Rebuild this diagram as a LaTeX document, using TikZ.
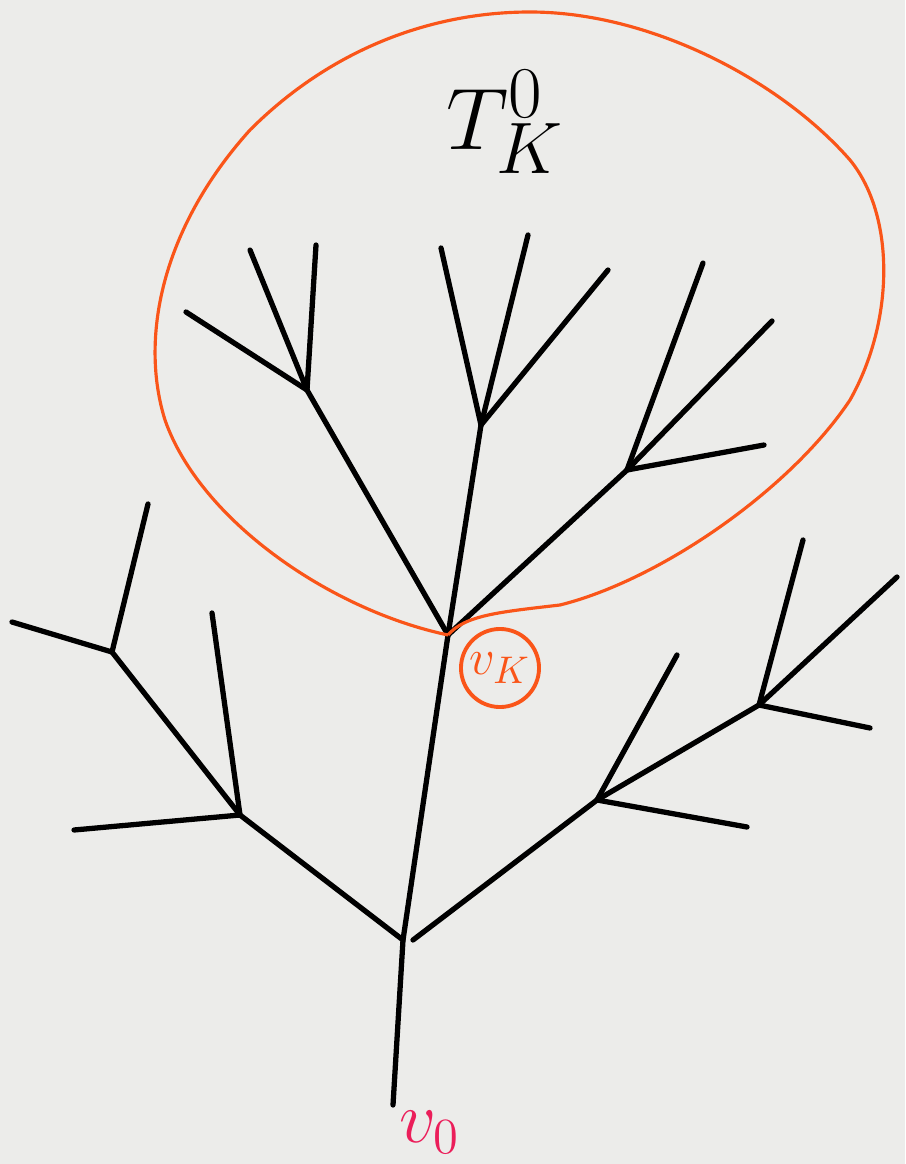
\documentclass[tikz,border=0pt]{standalone}
\usepackage{tikz}
\definecolor{paper}{RGB}{236,236,234}
\definecolor{loopcol}{RGB}{250,85,25}
\definecolor{rootcol}{RGB}{235,30,90}
\tikzset{
  br/.style={line width=1.5pt, line cap=round, line join=round, black},
  lp/.style={line width=0.9pt, loopcol},
}
\begin{document}
\begin{tikzpicture}[x=0.01cm,y=-0.01cm]
\fill[paper] (0,0) rectangle (905,1164);
\useasboundingbox (0,0) rectangle (905,1164);
% coordinates
\coordinate (v0) at (393,1105);
\coordinate (a) at (403,940);
\coordinate (a2) at (413,940);
\coordinate (vk) at (448,635);
\coordinate (b) at (307,390);
\coordinate (c) at (481,425);
\coordinate (d) at (627,470);
\coordinate (b1) at (250,250);
\coordinate (b2) at (316,245);
\coordinate (b3) at (186,312);
\coordinate (c1) at (441,248);
\coordinate (c2) at (528,235);
\coordinate (c3) at (608,270);
\coordinate (d1) at (703,263);
\coordinate (d2) at (772,321);
\coordinate (d3) at (764,445);
\coordinate (e) at (240,815);
\coordinate (e1) at (74,830);
\coordinate (e2) at (212,613);
\coordinate (f) at (112,652);
\coordinate (f1) at (148,504);
\coordinate (f2) at (12,622);
\coordinate (g) at (597,800);
\coordinate (g1) at (677,655);
\coordinate (g2) at (747,827);
\coordinate (h) at (759,705);
\coordinate (h1) at (803,540);
\coordinate (h2) at (897,577);
\coordinate (h3) at (870,728);
% tree
\draw[br] (v0) -- (a) -- (vk);
\draw[br] (a) -- (e);
\draw[br] (a2) -- (g);
\draw[br] (vk) -- (b); \draw[br] (vk) -- (c); \draw[br] (vk) -- (d);
\draw[br] (b) -- (b1); \draw[br] (b) -- (b2); \draw[br] (b) -- (b3);
\draw[br] (c) -- (c1); \draw[br] (c) -- (c2); \draw[br] (c) -- (c3);
\draw[br] (d) -- (d1); \draw[br] (d) -- (d2); \draw[br] (d) -- (d3);
\draw[br] (e) -- (e1); \draw[br] (e) -- (e2); \draw[br] (e) -- (f);
\draw[br] (f) -- (f1); \draw[br] (f) -- (f2);
\draw[br] (g) -- (g1); \draw[br] (g) -- (g2); \draw[br] (g) -- (h);
\draw[br] (h) -- (h1); \draw[br] (h) -- (h2); \draw[br] (h) -- (h3);
% loop
\draw[lp] (vk) .. controls (330,610) and (200,520) .. (165,420)
  .. controls (140,340) and (160,230) .. (250,130)
  .. controls (330,50) and (430,12) .. (530,12)
  .. controls (650,12) and (780,80) .. (850,160)
  .. controls (895,215) and (895,320) .. (850,400)
  .. controls (790,490) and (660,580) .. (560,605)
  .. controls (500,612) and (465,615) .. (vk);
% labels
\node[circle, draw=loopcol, line width=1.1pt, minimum size=0.78cm, inner sep=0pt, text=loopcol, font=\fontsize{15}{17}\selectfont] (vklab) at (500,668) {$v_K$};
\node[font=\fontsize{30}{32}\selectfont] (tk) at (505,122) {$T^{0}_{K}$};
\node[text=rootcol, font=\fontsize{22}{24}\selectfont] (v0lab) at (430,1132) {$v_0$};
\end{tikzpicture}
\end{document}
